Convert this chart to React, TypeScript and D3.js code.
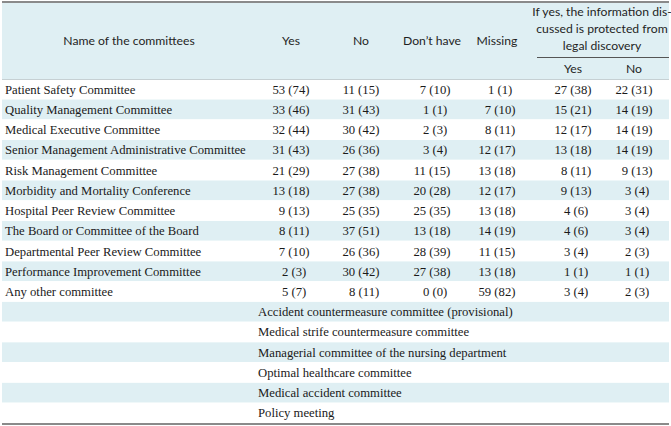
import React from "react";
import * as d3 from "d3";

const committees = [
  "Patient Safety Committee",
  "Quality Management Committee",
  "Medical Executive Committee",
  "Senior Management Administrative Committee",
  "Risk Management Committee",
  "Morbidity and Mortality Conference",
  "Hospital Peer Review Committee",
  "The Board or Committee of the Board",
  "Departmental Peer Review Committee",
  "Performance Improvement Committee",
  "Any other committee",
];

const yesVals: [number, number][] = [[53, 74], [33, 46], [32, 44], [31, 43], [21, 29], [13, 18], [9, 13], [8, 11], [7, 10], [2, 3], [5, 7]];
const noVals: [number, number][] = [[11, 15], [31, 43], [30, 42], [26, 36], [27, 38], [27, 38], [25, 35], [37, 51], [26, 36], [30, 42], [8, 11]];
const dontHaveVals: [number, number][] = [[7, 10], [1, 1], [2, 3], [3, 4], [11, 15], [20, 28], [25, 35], [13, 18], [28, 39], [27, 38], [0, 0]];
const missingVals: [number, number][] = [[1, 1], [7, 10], [8, 11], [12, 17], [13, 18], [12, 17], [13, 18], [14, 19], [11, 15], [13, 18], [59, 82]];
const protectedYesVals: [number, number][] = [[27, 38], [15, 21], [12, 17], [13, 18], [8, 11], [9, 13], [4, 6], [4, 6], [3, 4], [1, 1], [3, 4]];
const protectedNoVals: [number, number][] = [[22, 31], [14, 19], [14, 19], [14, 19], [9, 13], [3, 4], [3, 4], [3, 4], [2, 3], [1, 1], [2, 3]];

const otherCommittees = [
  "Accident countermeasure committee (provisional)",
  "Medical strife countermeasure committee",
  "Managerial committee of the nursing department",
  "Optimal healthcare committee",
  "Medical accident committee",
  "Policy meeting",
];

const columnHeaders = ["Yes", "No", "Don\u2019t have", "Missing"];
const groupHeaderLines = ["If yes, the information dis-", "cussed is protected from", "legal discovery"];
const subHeaders = ["Yes", "No"];

const W = 671;
const H = 426;
const SHADE = "#dfeff3";
const SERIF = "'Liberation Serif', 'Times New Roman', serif";
const SANS = "Lato, 'Open Sans', sans-serif";

const fmt = (v: [number, number]) => (v[0] < 10 ? "\u2007" : "") + `${v[0]} (${v[1]})`;

export default function App() {
  const series = [yesVals, noVals, dontHaveVals, missingVals, protectedYesVals, protectedNoVals];
  const colKeys = ["yes", "no", "dont", "missing", "pyes", "pno"];
  const colCenters = [291, 361, 432, 497, 573, 634];
  const xCol = d3.scaleOrdinal<string, number>().domain(colKeys).range(colCenters);

  const nRows = committees.length + otherCommittees.length;
  const y = d3
    .scaleBand<number>()
    .domain(d3.range(nRows))
    .range([79, 423])
    .padding(0);
  const rh = y.bandwidth();

  const headerTop = 3;
  const headerBottom = 79;

  return (
    <svg
      width={W}
      height={H}
      style={{ position: "absolute", left: 0, top: 0, background: "#fff" }}
    >
      <rect x={2} y={headerTop} width={W - 4} height={headerBottom - headerTop} fill={SHADE} />
      {d3.range(nRows).map((i) =>
        i % 2 === 1 ? (
          <rect key={"s" + i} x={2} y={(y(i) as number) + 0.3} width={W - 4} height={rh - 0.6} fill={SHADE} />
        ) : null
      )}
      <rect x={2} y={1} width={W - 4} height={2} fill="#8a8a8a" />
      <rect x={2} y={423} width={W - 4} height={2} fill="#8a8a8a" />
      <line x1={2} x2={W - 2} y1={headerBottom + 0.5} y2={headerBottom + 0.5} stroke="#b8c4c8" strokeWidth={0.8} />
      <line x1={537} x2={W - 2} y1={57.5} y2={57.5} stroke="#555" strokeWidth={1} />

      <g fontFamily={SANS} fontSize={12.2} fill="#1f1f1f">
        <text x={129} y={45} textAnchor="middle">Name of the committees</text>
        {columnHeaders.map((h, i) => (
          <text key={h} x={xCol(colKeys[i])} y={45} textAnchor="middle">{h}</text>
        ))}
        {groupHeaderLines.map((l, i) => (
          <text key={l} x={602} y={16 + i * 17} textAnchor="middle">{l}</text>
        ))}
        {subHeaders.map((h, i) => (
          <text key={"sub" + h} x={xCol(colKeys[4 + i])} y={73} textAnchor="middle">{h}</text>
        ))}
      </g>

      <g fontFamily={SERIF} fontSize={12.7} fill="#1a1a1a">
        {committees.map((c, i) => {
          const ty = (y(i) as number) + rh / 2 + 4.5;
          return (
            <g key={c}>
              <text x={5} y={ty}>{c}</text>
              {series.map((s, j) => (
                <text
                  key={j}
                  x={xCol(colKeys[j])}
                  y={ty}
                  textAnchor="middle"
                  style={{ whiteSpace: "pre" }}
                >
                  {fmt(s[i])}
                </text>
              ))}
            </g>
          );
        })}
        {otherCommittees.map((c, k) => {
          const i = committees.length + k;
          const ty = (y(i) as number) + rh / 2 + 4.5;
          return (
            <text key={c} x={258} y={ty}>{c}</text>
          );
        })}
      </g>
    </svg>
  );
}
